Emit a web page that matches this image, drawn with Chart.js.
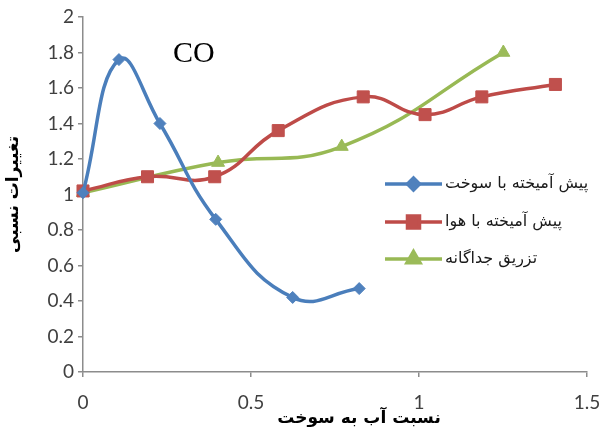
<!DOCTYPE html>
<html>
<head>
<meta charset="utf-8">
<script src="https://cdn.jsdelivr.net/npm/chart.js@4"></script>
<style>
  html, body { margin: 0; padding: 0; background: #fff; }
  #wrap { width: 602px; height: 428px; }
</style>
</head>
<body>
<div id="wrap"><canvas id="coChart" width="602" height="428"></canvas></div>
<script>
// values
const fuelX = [0, 0.107, 0.229, 0.395, 0.624, 0.822];
const fuelY = [1.01, 1.76, 1.40, 0.86, 0.42, 0.47];
const airX = [0, 0.192, 0.392, 0.581, 0.834, 1.018, 1.187, 1.406];
const airY = [1.02, 1.10, 1.10, 1.36, 1.55, 1.45, 1.55, 1.62];
const sepX = [0, 0.402, 0.77, 1.251];
const sepY = [1.01, 1.18, 1.27, 1.80];

const seriesNames = ['پیش آمیخته با سوخت', 'پیش آمیخته با هوا', 'تزریق جداگانه'];
const xTitle = 'نسبت آب به سوخت';
const yTitle = 'تغییرات نسبی';
const chartLabel = 'CO';

const toPoints = (xs, ys) => xs.map((x, i) => ({ x: x, y: ys[i] }));
const fmt = v => String(Number(v.toFixed(1)));

const tickColor = '#404040';
const axisColor = '#8c8c8c';

// legend, x title and "CO" drawn by hand, like the original
const innerText = {
  id: 'innerText',
  afterDatasetsDraw(chart) {
    const ctx = chart.ctx;
    const xs = chart.scales.x, ys = chart.scales.y;
    ctx.save();
    ctx.fillStyle = '#000';
    ctx.font = '30px "Liberation Serif"';
    ctx.textAlign = 'center';
    ctx.textBaseline = 'middle';
    ctx.fillText(chartLabel, xs.getPixelForValue(0.33), ys.getPixelForValue(1.79));

    ctx.font = 'bold 17px "DejaVu Sans"';
    ctx.direction = 'rtl';
    ctx.fillText(xTitle, 359, 419);

    const lx = 385, lw = 57, rowY = [184, 222, 259];
    chart.data.datasets.forEach((ds, i) => {
      const y = rowY[i];
      ctx.strokeStyle = ds.borderColor;
      ctx.lineWidth = ds.borderWidth;
      ctx.beginPath();
      ctx.moveTo(lx, y);
      ctx.lineTo(lx + lw, y);
      ctx.stroke();
      ctx.fillStyle = ds.pointBackgroundColor;
      ctx.strokeStyle = ds.pointBorderColor;
      Chart.helpers.drawPoint(ctx, { pointStyle: ds.pointStyle, radius: ds.pointRadius, rotation: 0, borderWidth: 1 }, lx + lw / 2, y);
      ctx.fillStyle = '#1a1a1a';
      ctx.font = '16px "DejaVu Sans"';
      ctx.textBaseline = 'middle';
      ctx.direction = 'rtl';
      ctx.textAlign = 'left';
      ctx.fillText(ds.label, lx + lw + 3, y);
    });
    ctx.restore();
  }
};

new Chart(document.getElementById('coChart'), {
  type: 'line',
  data: {
    datasets: [
      {
        label: seriesNames[0],
        data: toPoints(fuelX, fuelY),
        borderColor: '#4a7ebb',
        pointBackgroundColor: '#4f81bd',
        pointBorderColor: '#4f81bd',
        pointStyle: 'rectRot',
        pointRadius: 6
      },
      {
        label: seriesNames[1],
        data: toPoints(airX, airY),
        borderColor: '#be4b48',
        pointBackgroundColor: '#c0504d',
        pointBorderColor: '#c0504d',
        pointStyle: 'rect',
        pointRadius: 8.5
      },
      {
        label: seriesNames[2],
        data: toPoints(sepX, sepY),
        borderColor: '#98b954',
        pointBackgroundColor: '#9bbb59',
        pointBorderColor: '#9bbb59',
        pointStyle: 'triangle',
        pointRadius: 7.5
      }
    ].map(d => Object.assign(d, { borderWidth: 3.5, tension: 0.45, clip: false, fill: false, pointBorderWidth: 1 }))
  },
  options: {
    responsive: false,
    animation: false,
    layout: { padding: { top: 17, right: 15, left: 0, bottom: 0 } },
    plugins: {
      legend: { display: false },
      tooltip: { enabled: false }
    },
    scales: {
      x: {
        type: 'linear',
        min: 0,
        max: 1.5,
        ticks: { stepSize: 0.5, color: tickColor, font: { family: 'Lato', size: 19 }, padding: 14, maxRotation: 0, callback: fmt },
        grid: { drawOnChartArea: false, color: axisColor, tickLength: 5, lineWidth: 1.5 },
        border: { color: axisColor, width: 1.5 },
        afterFit: s => { s.height = 56; s.paddingLeft = 0; s.paddingRight = 0; }
      },
      y: {
        min: 0,
        max: 2,
        ticks: { stepSize: 0.2, color: tickColor, font: { family: 'Lato', size: 19 }, padding: 4, callback: fmt },
        grid: { drawOnChartArea: false, color: axisColor, tickLength: 5, lineWidth: 1.5 },
        border: { color: axisColor, width: 1.5 },
        title: { display: true, text: yTitle, color: '#000', font: { family: 'DejaVu Sans', size: 17, weight: 'bold' }, padding: { top: 3, bottom: 0 } },
        afterFit: s => { s.width = 83; }
      }
    }
  },
  plugins: [innerText]
});
</script>
</body>
</html>
